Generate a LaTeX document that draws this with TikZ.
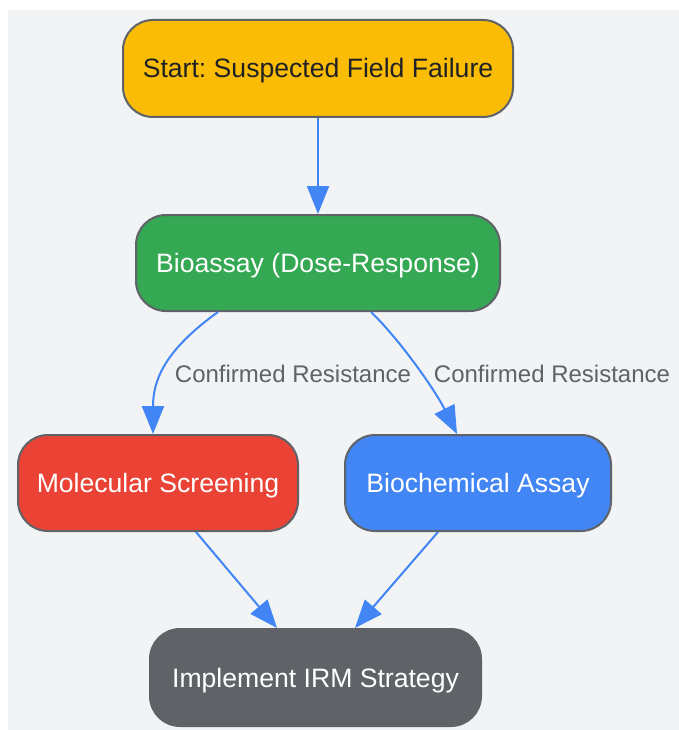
\documentclass[tikz,border=0pt]{standalone}
\usepackage{fontspec}
\setmainfont{Liberation Sans}
\usetikzlibrary{arrows.meta}
\definecolor{bgc}{HTML}{F1F3F4}
\definecolor{gborder}{HTML}{5F6368}
\definecolor{cyellow}{HTML}{FBBC05}
\definecolor{cgreen}{HTML}{34A853}
\definecolor{cred}{HTML}{EA4335}
\definecolor{cblue}{HTML}{4285F4}
\definecolor{cdark}{HTML}{202124}
\tikzset{
  box/.style={draw=gborder, line width=2pt, rounded corners=30pt, minimum height=96pt,
    inner sep=0pt, font=\fontsize{26.6}{32}\selectfont\frenchspacing, text=white,
    text height=19pt, text depth=0pt},
  conn/.style={draw=cblue, line width=2pt, -{Triangle[length=28pt,width=22pt]}},
  elabel/.style={font=\fontsize{24}{29}\selectfont, text=gborder, inner sep=0pt,
    text height=17.2pt, text depth=0pt}
}
\begin{document}
\begin{tikzpicture}[x=1pt,y=-1pt]
\useasboundingbox (0,0) rectangle (679,730);
\fill[bgc] (8,10) rectangle (679,730);
\node[box, fill=cyellow, text=cdark, minimum width=390pt, minimum height=97pt] (start) at (318,68.5) {Start: Suspected Field Failure};
\node[box, fill=cgreen, minimum width=364pt] (bio) at (318,263) {Bioassay (Dose-Response)};
\node[box, fill=cred, minimum width=280pt] (mol) at (158,483) {Molecular Screening};
\node[box, fill=cblue, minimum width=266pt] (bch) at (478,483) {Biochemical Assay};
\node[box, fill=gborder, minimum width=331pt, minimum height=97pt] (irm) at (315.5,677.5) {Implement IRM Strategy};

\draw[conn] (start.south) -- (bio.north);
\draw[conn] ([xshift=-100pt]bio.south) .. controls (165,350) and (153,380) .. ([xshift=-5pt]mol.north)
  node[elabel, at={(293,374)}] (l1) {Confirmed Resistance};
\draw[conn] ([xshift=53pt]bio.south) .. controls (400,340) and (435,390) .. ([xshift=-21pt]bch.north)
  node[elabel, at={(552,374)}] (l2) {Confirmed Resistance};
\draw[conn] ([xshift=38pt]mol.south) -- ([xshift=-38.5pt]irm.north);
\draw[conn] ([xshift=-40pt]bch.south) -- ([xshift=39.5pt]irm.north);
\end{tikzpicture}
\end{document}
